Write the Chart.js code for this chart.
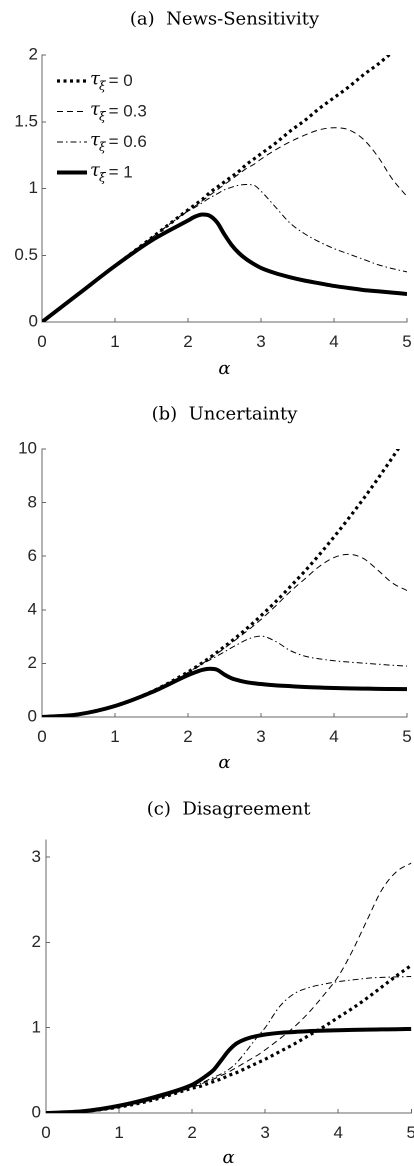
<!DOCTYPE html>
<html>
<head>
<meta charset="utf-8">
<script src="https://cdn.jsdelivr.net/npm/chart.js@4.4.1/dist/chart.umd.min.js"></script>
<style>
html, body { margin: 0; padding: 0; background: #fff; width: 414px; height: 1166px; overflow: hidden; }
.panel { position: absolute; left: 0; width: 430px; height: 395px; }
</style>
</head>
<body>
<div class="panel" style="top:0"><canvas id="chartA" width="430" height="395"></canvas></div>
<div class="panel" style="top:395px"><canvas id="chartB" width="430" height="395"></canvas></div>
<div class="panel" style="top:790px"><canvas id="chartC" width="430" height="395"></canvas></div>
<script>
// alpha grid shared by every curve
let alphas = [0, 0.5, 1, 1.5, 2, 2.1, 2.2, 2.3, 2.4, 2.5, 2.6, 2.7, 2.8, 2.9, 3, 3.2, 3.4, 3.6, 3.8, 4, 4.2, 4.4, 4.6, 4.8, 5];
let tauLabels = ['0', '0.3', '0.6', '1'];
let titles = ['(a)  News-Sensitivity', '(b)  Uncertainty', '(c)  Disagreement'];

// (a) news-sensitivity
let sensTau0  = [0, 0.21, 0.42, 0.63, 0.84, 0.88, 0.92, 0.97, 1.01, 1.05, 1.09, 1.13, 1.18, 1.22, 1.26, 1.34, 1.43, 1.51, 1.60, 1.68, 1.76, 1.85, 1.93, 2.02, 2.10];
let sensTau03 = [0, 0.21, 0.42, 0.63, 0.835, 0.87, 0.91, 0.95, 0.99, 1.03, 1.07, 1.11, 1.15, 1.18, 1.22, 1.29, 1.35, 1.40, 1.44, 1.455, 1.44, 1.37, 1.24, 1.07, 0.94];
let sensTau06 = [0, 0.21, 0.42, 0.63, 0.83, 0.86, 0.895, 0.93, 0.96, 0.99, 1.01, 1.025, 1.03, 1.025, 0.98, 0.86, 0.74, 0.66, 0.60, 0.55, 0.51, 0.47, 0.43, 0.40, 0.375];
let sensTau1  = [0, 0.21, 0.42, 0.61, 0.76, 0.79, 0.805, 0.795, 0.745, 0.655, 0.575, 0.515, 0.47, 0.435, 0.405, 0.365, 0.335, 0.31, 0.29, 0.27, 0.255, 0.24, 0.23, 0.22, 0.21];

// (b) uncertainty
let uncTau0  = [0, 0.105, 0.42, 0.945, 1.68, 1.85, 2.03, 2.22, 2.42, 2.63, 2.84, 3.06, 3.29, 3.53, 3.78, 4.30, 4.86, 5.44, 6.06, 6.72, 7.41, 8.13, 8.89, 9.68, 10.5];
let uncTau03 = [0, 0.105, 0.42, 0.94, 1.66, 1.83, 2.0, 2.18, 2.37, 2.57, 2.77, 2.98, 3.19, 3.41, 3.64, 4.14, 4.68, 5.15, 5.62, 5.95, 6.07, 5.92, 5.48, 5.0, 4.72];
let uncTau06 = [0, 0.105, 0.42, 0.94, 1.65, 1.81, 1.98, 2.13, 2.28, 2.43, 2.59, 2.74, 2.88, 2.98, 3.02, 2.82, 2.48, 2.27, 2.17, 2.10, 2.05, 2.01, 1.97, 1.93, 1.90];
let uncTau1  = [0, 0.10, 0.41, 0.92, 1.56, 1.67, 1.76, 1.80, 1.76, 1.58, 1.44, 1.36, 1.30, 1.26, 1.23, 1.18, 1.15, 1.12, 1.10, 1.08, 1.07, 1.06, 1.05, 1.045, 1.04];

// (c) disagreement
let disTau0  = [0, 0.018, 0.07, 0.16, 0.29, 0.31, 0.34, 0.37, 0.40, 0.44, 0.47, 0.51, 0.55, 0.59, 0.63, 0.72, 0.81, 0.91, 1.01, 1.12, 1.23, 1.35, 1.48, 1.61, 1.73];
let disTau03 = [0, 0.018, 0.07, 0.165, 0.30, 0.33, 0.37, 0.40, 0.44, 0.48, 0.53, 0.58, 0.63, 0.68, 0.74, 0.87, 1.01, 1.18, 1.38, 1.60, 1.91, 2.27, 2.62, 2.83, 2.93];
let disTau06 = [0, 0.018, 0.07, 0.165, 0.31, 0.34, 0.38, 0.42, 0.46, 0.51, 0.58, 0.68, 0.79, 0.90, 1.0, 1.25, 1.40, 1.47, 1.51, 1.54, 1.56, 1.58, 1.59, 1.595, 1.60];
let disTau1  = [0, 0.02, 0.085, 0.19, 0.33, 0.38, 0.44, 0.51, 0.62, 0.73, 0.81, 0.855, 0.885, 0.905, 0.92, 0.94, 0.95, 0.96, 0.965, 0.97, 0.975, 0.978, 0.98, 0.982, 0.985];

let yMax = [2, 10, 3.2];
let yStep = [0.5, 2, 1];

// line styles, one per tau
let styles = [
  { borderWidth: 3.2, borderDash: [3, 3.5] },
  { borderWidth: 1, borderDash: [6, 4] },
  { borderWidth: 1, borderDash: [6, 3, 1.5, 3] },
  { borderWidth: 4, borderDash: [] }
];

const axisColor = '#666';
const textColor = '#262626';
const sans = '"Liberation Sans", Arial, sans-serif';
const serif = '"DejaVu Serif", serif';

// panel title centred over the axes
const panelTitle = {
  id: 'panelTitle',
  afterDraw(chart, args, opts) {
    const ctx = chart.ctx, a = chart.chartArea;
    ctx.save();
    ctx.font = '18px ' + serif;
    ctx.fillStyle = '#000';
    ctx.textAlign = 'center';
    ctx.textBaseline = 'middle';
    ctx.fillText(opts.text, (a.left + a.right) / 2, opts.y);
    ctx.restore();
  }
};

// legend with tau_xi subscripts
const tauLegend = {
  id: 'tauLegend',
  afterDraw(chart, args, opts) {
    if (!opts.show) return;
    const ctx = chart.ctx;
    chart.data.datasets.forEach((ds, i) => {
      const y = opts.y + i * opts.step;
      ctx.save();
      ctx.strokeStyle = '#000';
      ctx.lineWidth = ds.borderWidth;
      ctx.setLineDash(ds.borderDash);
      ctx.beginPath();
      ctx.moveTo(opts.x, y);
      ctx.lineTo(opts.x + opts.len, y);
      ctx.stroke();
      ctx.setLineDash([]);
      ctx.fillStyle = '#000';
      ctx.textBaseline = 'alphabetic';
      let tx = opts.x + opts.len + 3;
      ctx.font = 'italic 18px ' + serif;
      ctx.fillText('τ', tx, y + 3);
      tx += ctx.measureText('τ').width - 1;
      ctx.font = 'italic 12px ' + serif;
      ctx.fillText('ξ', tx, y + 9);
      tx += ctx.measureText('ξ').width + 3;
      ctx.font = '17px ' + sans;
      ctx.fillStyle = textColor;
      ctx.fillText('= ' + tauLabels[i], tx, y + 5);
      ctx.restore();
    });
  }
};

function makePanel(id, k, series, pad) {
  return new Chart(document.getElementById(id), {
    type: 'line',
    data: {
      datasets: series.map((vals, i) => ({
        label: 'τξ = ' + tauLabels[i],
        data: alphas.map((a, j) => ({ x: a, y: vals[j] })),
        borderColor: '#000',
        borderWidth: styles[i].borderWidth,
        borderDash: styles[i].borderDash,
        borderCapStyle: 'butt',
        pointRadius: 0,
        cubicInterpolationMode: 'monotone',
        fill: false
      }))
    },
    plugins: [panelTitle, tauLegend],
    options: {
      responsive: false,
      animation: false,
      devicePixelRatio: 2,
      layout: { padding: { top: pad.top, right: pad.right, left: 0, bottom: 0 } },
      plugins: {
        legend: { display: false },
        tooltip: { enabled: false },
        panelTitle: { text: titles[k], y: 20 },
        tauLegend: { show: k === 0, x: 57, len: 30, y: 81, step: 30.5 }
      },
      scales: {
        x: {
          type: 'linear', min: 0, max: 5,
          ticks: { stepSize: 1, padding: 14, color: textColor, font: { family: sans, size: 17 } },
          grid: { drawOnChartArea: false, drawTicks: true, tickLength: -4, color: axisColor },
          border: { color: axisColor, width: 1 },
          title: { display: true, text: 'α', color: '#000', font: { family: serif, size: 18, style: 'italic' }, padding: { top: 0, bottom: pad.titleBottom } },
          afterFit: s => { s.height = pad.xHeight; }
        },
        y: {
          type: 'linear', min: 0, max: yMax[k],
          ticks: { stepSize: yStep[k], includeBounds: false, padding: pad.yPad, color: textColor, font: { family: sans, size: 17 }, callback: v => String(v) },
          grid: { drawOnChartArea: false, drawTicks: true, tickLength: -4, color: axisColor },
          border: { color: axisColor, width: 1 },
          afterFit: s => { s.width = pad.yWidth; }
        }
      }
    }
  });
}

makePanel('chartA', 0, [sensTau0, sensTau03, sensTau06, sensTau1],
  { top: 55, right: 23, xHeight: 73, titleBottom: 15, yWidth: 42, yPad: 8 });
makePanel('chartB', 1, [uncTau0, uncTau03, uncTau06, uncTau1],
  { top: 54, right: 23, xHeight: 73, titleBottom: 16, yWidth: 42, yPad: 9 });
makePanel('chartC', 2, [disTau0, disTau03, disTau06, disTau1],
  { top: 50, right: 18, xHeight: 72, titleBottom: 16, yWidth: 46, yPad: 9 });
</script>
</body>
</html>
